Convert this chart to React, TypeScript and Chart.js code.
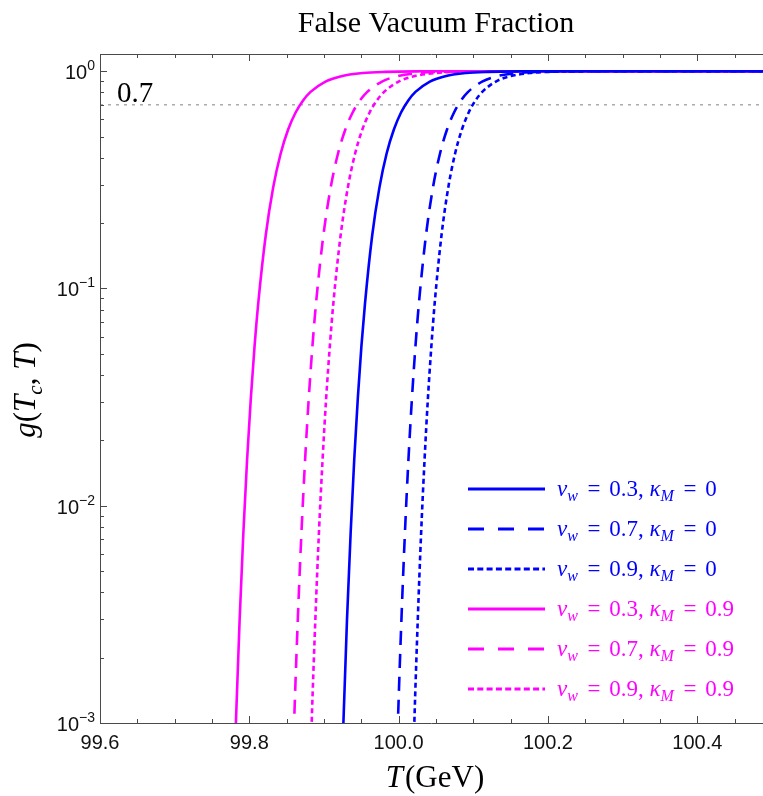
import React, { useEffect, useRef } from "react";
import { Chart, registerables } from "chart.js";

Chart.register(...registerables);

// ---------- data ----------
const X_MIN = 99.6;
const X_MAX = 100.488;
const Y_MIN = 0.001;
const Y_MAX = 1.2;
const X_TICKS = [99.6, 99.8, 100.0, 100.2, 100.4];
const X_TICK_LABELS = ["99.6", "99.8", "100.0", "100.2", "100.4"];
const X_MINOR_STEP = 0.05;
const Y_TICK_EXP = [0, -1, -2, -3];
const Y_TICK_SUP = ["0", "\u22121", "\u22122", "\u22123"];
const REF_LEVEL = 0.7;
const REF_LABEL = "0.7";

// g(Tc,T) levels, and the temperature at which each curve reaches each level
const G_LEVELS = [0.0002, 0.001, 0.00298, 0.00749, 0.01628, 0.0312, 0.0541, 0.0859, 0.1758, 0.292, 0.418, 0.539, 0.6457, 0.7336, 0.803, 0.896, 0.9463, 0.9806, 0.9931, 0.9988, 0.9998, 1.0];
const T_BLUE_SOLID = [99.9202, 99.926, 99.9308, 99.9357, 99.9405, 99.9453, 99.9501, 99.955, 99.9646, 99.9743, 99.9839, 99.9936, 100.0032, 100.0129, 100.0225, 100.0418, 100.0611, 100.0901, 100.119, 100.1673, 100.2155, 100.6];
const T_BLUE_DASHED = [99.9934, 99.999, 100.0037, 100.0084, 100.0131, 100.0178, 100.0225, 100.0272, 100.0366, 100.046, 100.0554, 100.0648, 100.0742, 100.0836, 100.093, 100.1118, 100.1306, 100.1588, 100.187, 100.234, 100.281, 100.6];
const T_BLUE_DOTTED = [100.0155, 100.021, 100.0256, 100.0301, 100.0347, 100.0392, 100.0438, 100.0483, 100.0574, 100.0665, 100.0756, 100.0847, 100.0938, 100.1029, 100.112, 100.1302, 100.1484, 100.1757, 100.203, 100.2485, 100.294, 100.6];
const T_MAG_SOLID = [99.776, 99.782, 99.787, 99.792, 99.797, 99.802, 99.807, 99.812, 99.822, 99.832, 99.842, 99.852, 99.862, 99.872, 99.882, 99.902, 99.922, 99.952, 99.982, 100.032, 100.082, 100.6];
const T_MAG_DASHED = [99.8541, 99.86, 99.8649, 99.8698, 99.8747, 99.8796, 99.8845, 99.8894, 99.8992, 99.909, 99.9188, 99.9286, 99.9384, 99.9482, 99.958, 99.9776, 99.9972, 100.0266, 100.056, 100.105, 100.154, 100.6];
const T_MAG_DOTTED = [99.8777, 99.8835, 99.8884, 99.8932, 99.8981, 99.9029, 99.9078, 99.9126, 99.9223, 99.932, 99.9417, 99.9514, 99.9611, 99.9708, 99.9805, 99.9999, 100.0193, 100.0484, 100.0775, 100.126, 100.1745, 100.6];

const SERIES_T = [T_BLUE_SOLID, T_BLUE_DASHED, T_BLUE_DOTTED, T_MAG_SOLID, T_MAG_DASHED, T_MAG_DOTTED];
const SERIES_VW = ["0.3", "0.7", "0.9", "0.3", "0.7", "0.9"];
const SERIES_KAPPA = ["0", "0", "0", "0.9", "0.9", "0.9"];
const SERIES_COLOR = ["#0000ff", "#0000ff", "#0000ff", "#ff00ff", "#ff00ff", "#ff00ff"];
const SERIES_STYLE = ["solid", "dashed", "dotted", "solid", "dashed", "dotted"];

const TITLE = "False Vacuum Fraction";

// ---------- styles ----------
const DASH: Record<string, number[]> = { solid: [], dashed: [14, 9], dotted: [5, 3.5] };
const LEGEND_DASH: Record<string, number[]> = { solid: [], dashed: [16, 14], dotted: [6, 3.3] };
const SERIF = '"Liberation Serif", "Times New Roman", serif';
const SANS = '"Liberation Sans", Arial, sans-serif';
const CENTER_X = 436;

const overlay = {
  id: "overlay",
  afterDraw(chart: any) {
    const ctx: CanvasRenderingContext2D = chart.ctx;
    const xs = chart.scales.x;
    const ys = chart.scales.y;
    const a = chart.chartArea;
    ctx.save();

    // keep the right edge of the picture clean (the plot continues past it)
    ctx.fillStyle = "#fff";
    ctx.fillRect(a.right - 2, a.top + 1, 2, ys.getPixelForValue(1.0) - a.top - 4);
    ctx.fillRect(a.right - 2, ys.getPixelForValue(1.0) + 4, 2, a.bottom - ys.getPixelForValue(1.0) - 5);

    const line = (x1: number, y1: number, x2: number, y2: number) => {
      ctx.beginPath();
      ctx.moveTo(x1, y1);
      ctx.lineTo(x2, y2);
      ctx.stroke();
    };

    // frame (left, top, bottom; the right side lies beyond the picture)
    ctx.strokeStyle = "#4a4a4a";
    ctx.lineWidth = 1;
    ctx.setLineDash([]);
    line(a.left + 0.5, a.top + 0.5, a.left + 0.5, a.bottom + 0.5);
    line(a.left, a.top + 0.5, a.right, a.top + 0.5);
    line(a.left, a.bottom + 0.5, a.right, a.bottom + 0.5);

    // ticks
    const nMinor = Math.floor((X_MAX - X_MIN) / X_MINOR_STEP + 1e-6);
    for (let i = 0; i <= nMinor; i++) {
      const v = X_MIN + i * X_MINOR_STEP;
      const major = X_TICKS.some((t) => Math.abs(t - v) < 1e-6);
      const len = major ? 7 : 4;
      const px = Math.round(xs.getPixelForValue(v)) + 0.5;
      line(px, a.bottom, px, a.bottom - len);
      line(px, a.top, px, a.top + len);
    }
    for (let e = -3; e <= 0; e++) {
      for (let m = 1; m <= 9; m++) {
        const v = m * Math.pow(10, e);
        if (v > 1.0001 || v < Y_MIN * 0.999) continue;
        const len = m === 1 ? 7 : 4;
        const py = Math.round(ys.getPixelForValue(v)) + 0.5;
        line(a.left, py, a.left + len, py);
      }
    }

    // x tick labels
    ctx.fillStyle = "#111";
    ctx.font = `20px ${SANS}`;
    ctx.textAlign = "center";
    ctx.textBaseline = "alphabetic";
    X_TICKS.forEach((t, i) => {
      ctx.fillText(X_TICK_LABELS[i], xs.getPixelForValue(t), a.bottom + 26);
    });

    // y tick labels 10^k
    ctx.textAlign = "left";
    Y_TICK_EXP.forEach((e, i) => {
      const py = ys.getPixelForValue(Math.pow(10, e));
      const xr = a.left - 5;
      ctx.font = `14px ${SANS}`;
      const sw = ctx.measureText(Y_TICK_SUP[i]).width;
      ctx.font = `20px ${SANS}`;
      const tw = ctx.measureText("10").width;
      ctx.fillText("10", xr - sw - tw, py + 8);
      ctx.font = `14px ${SANS}`;
      ctx.fillText(Y_TICK_SUP[i], xr - sw, py - 1);
    });

    // reference label
    ctx.font = `29px ${SERIF}`;
    ctx.fillStyle = "#000";
    ctx.fillText(REF_LABEL, a.left + 17, ys.getPixelForValue(REF_LEVEL) - 3);

    // title
    ctx.font = `30px ${SERIF}`;
    ctx.textAlign = "center";
    ctx.fillText(TITLE, CENTER_X, 32);

    // x axis label: T(GeV)
    {
      const fi = `italic 31px ${SERIF}`;
      const fr = `31px ${SERIF}`;
      ctx.font = fi;
      const w1 = ctx.measureText("T").width;
      ctx.font = fr;
      const w2 = ctx.measureText("(GeV)").width;
      const x0 = CENTER_X - (w1 + w2) / 2 - 2;
      ctx.textAlign = "left";
      ctx.font = fi;
      ctx.fillText("T", x0, 787);
      ctx.font = fr;
      ctx.fillText("(GeV)", x0 + w1 + 2, 787);
    }

    // y axis label: g(T_c, T)
    {
      ctx.save();
      ctx.translate(35, 390);
      ctx.rotate(-Math.PI / 2);
      const parts: [string, string, number][] = [
        ["g", `italic 31px ${SERIF}`, 0],
        ["(", `31px ${SERIF}`, 0],
        ["T", `italic 31px ${SERIF}`, 0],
        ["c", `italic 21px ${SERIF}`, 7],
        [", ", `31px ${SERIF}`, 0],
        ["T", `italic 31px ${SERIF}`, 0],
        [")", `31px ${SERIF}`, 0],
      ];
      let total = 0;
      const ws = parts.map(([t, f]) => {
        ctx.font = f;
        const w = ctx.measureText(t).width;
        total += w;
        return w;
      });
      let x = -total / 2;
      ctx.textAlign = "left";
      parts.forEach(([t, f, dy], i) => {
        ctx.font = f;
        ctx.fillText(t, x, dy);
        x += ws[i];
      });
      ctx.restore();
    }

    // legend
    SERIES_T.forEach((_, i) => {
      const y = 489 + i * 40;
      ctx.strokeStyle = SERIES_COLOR[i];
      ctx.fillStyle = SERIES_COLOR[i];
      ctx.lineWidth = 3;
      ctx.setLineDash(LEGEND_DASH[SERIES_STYLE[i]]);
      line(468, y, 545, y);
      ctx.setLineDash([]);
      const fs = 23;
      const pieces: [string, string, number, number][] = [
        ["v", `italic ${fs}px ${SERIF}`, 0, 0],
        ["w", `italic ${Math.round(fs * 0.7)}px ${SERIF}`, 5, 0.42],
        ["=", `${fs}px ${SERIF}`, 0, 0.38],
        [SERIES_VW[i] + ",", `${fs}px ${SERIF}`, 0, 0.25],
        ["\u03ba", `italic ${fs}px ${SERIF}`, 0, 0],
        ["M", `italic ${Math.round(fs * 0.7)}px ${SERIF}`, 5, 0.42],
        ["=", `${fs}px ${SERIF}`, 0, 0.38],
        [SERIES_KAPPA[i], `${fs}px ${SERIF}`, 0, 0],
      ];
      let x = 557;
      ctx.textAlign = "left";
      pieces.forEach(([t, f, dy, gap]) => {
        ctx.font = f;
        ctx.fillText(t, x, y + 7 + dy);
        x += ctx.measureText(t).width + gap * fs;
      });
    });

    ctx.restore();
  },
};

export default function App() {
  const ref = useRef<HTMLCanvasElement | null>(null);
  useEffect(() => {
    if (!ref.current) return;
    const datasets: any[] = SERIES_T.map((ts, i) => ({
      label: `v_w = ${SERIES_VW[i]}, kappa_M = ${SERIES_KAPPA[i]}`,
      data: ts.map((t, j) => ({ x: t, y: G_LEVELS[j] })),
      borderColor: SERIES_COLOR[i],
      borderWidth: 2.6,
      borderDash: DASH[SERIES_STYLE[i]],
      pointRadius: 0,
      fill: false,
      cubicInterpolationMode: "monotone",
    }));
    datasets.push({
      label: "ref",
      data: [
        { x: X_MIN, y: REF_LEVEL },
        { x: X_MAX, y: REF_LEVEL },
      ],
      borderColor: "#808080",
      borderWidth: 1,
      borderDash: [3, 5],
      pointRadius: 0,
      fill: false,
    });
    const chart = new Chart(ref.current, {
      type: "line",
      data: { datasets },
      options: {
        responsive: false,
        animation: false,
        devicePixelRatio: 1,
        layout: { padding: { left: 100, top: 54, right: 0, bottom: 73 } },
        plugins: { legend: { display: false }, tooltip: { enabled: false }, title: { display: false } },
        events: [],
        scales: {
          x: { type: "linear", min: X_MIN, max: X_MAX, display: false },
          y: { type: "logarithmic", min: Y_MIN, max: Y_MAX, display: false },
        },
      } as any,
      plugins: [overlay],
    });
    return () => chart.destroy();
  }, []);
  return (
    <div style={{ position: "fixed", left: 0, top: 0, width: 763, height: 796, overflow: "hidden", background: "#fff" }}>
      <canvas ref={ref} width={763} height={796} style={{ display: "block", width: 763, height: 796 }} />
    </div>
  );
}
